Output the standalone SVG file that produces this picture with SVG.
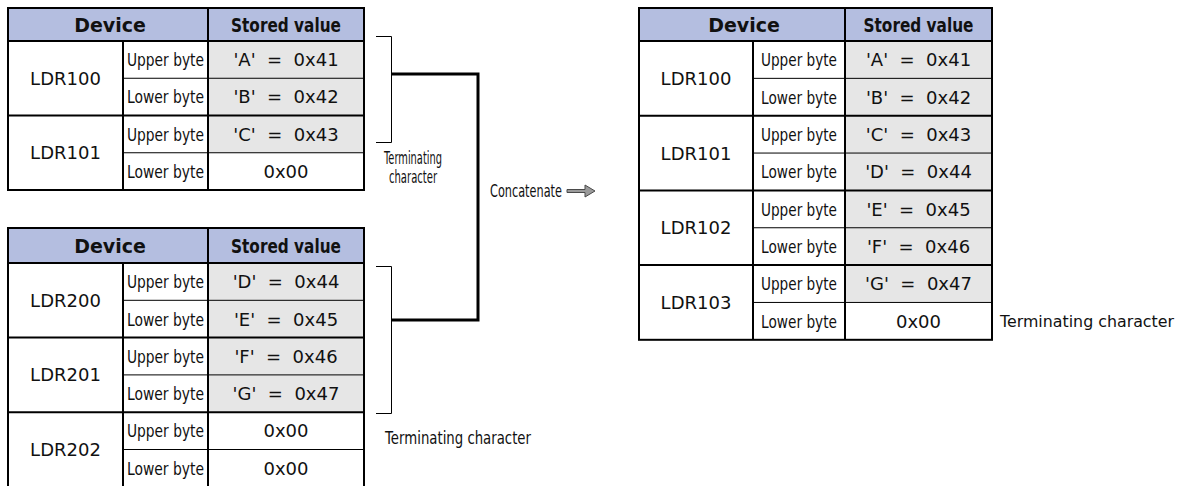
<svg xmlns="http://www.w3.org/2000/svg" width="1184" height="486" viewBox="0 0 1184 486">
<style>
.hdr{fill:#b4bee0}
.val{fill:#e6e6e6}
.bk{stroke:#000;stroke-width:2;fill:none}
.tn{stroke:#000;stroke-width:1;fill:none}
text{font-family:"DejaVu Sans",Verdana,sans-serif;fill:#111;dominant-baseline:central}
.m{text-anchor:middle}
.h{font-weight:bold;font-size:19px}
.hs{font-weight:bold;font-size:20px}
.d{font-size:18px}
.s{font-size:18px}
.lab{font-size:17px}
</style>
<rect width="1184" height="486" fill="#fff"/>

<g id="table1">
<rect class="hdr" x="8" y="8" width="356" height="33"/>
<rect class="val" x="208" y="41" width="156" height="111.75"/>
<rect class="bk" x="8" y="8" width="356" height="182"/>
<line class="bk" x1="8" y1="41" x2="364" y2="41"/>
<line class="bk" x1="8" y1="115.5" x2="364" y2="115.5"/>
<line class="tn" x1="123" y1="78.25" x2="364" y2="78.25"/>
<line class="tn" x1="123" y1="152.75" x2="364" y2="152.75"/>
<line class="bk" x1="123" y1="41" x2="123" y2="190"/>
<line class="bk" x1="208" y1="8" x2="208" y2="190"/>
<text class="m h" x="110" y="24.5">Device</text>
<text class="m hs" x="286" y="24.5" textLength="110" lengthAdjust="spacingAndGlyphs">Stored value</text>
<text class="m d" x="65.5" y="78.25">LDR100</text>
<text class="m d" x="65.5" y="152.75">LDR101</text>
<text class="m s" x="165.5" y="59.6" textLength="77" lengthAdjust="spacingAndGlyphs">Upper byte</text>
<text class="m s" x="165.5" y="96.9" textLength="77" lengthAdjust="spacingAndGlyphs">Lower byte</text>
<text class="m s" x="165.5" y="134.1" textLength="77" lengthAdjust="spacingAndGlyphs">Upper byte</text>
<text class="m s" x="165.5" y="171.4" textLength="77" lengthAdjust="spacingAndGlyphs">Lower byte</text>
<text class="m d" x="286" y="59.6" xml:space="preserve">'A'  =  0x41</text>
<text class="m d" x="286" y="96.9" xml:space="preserve">'B'  =  0x42</text>
<text class="m d" x="286" y="134.1" xml:space="preserve">'C'  =  0x43</text>
<text class="m d" x="286" y="171.4">0x00</text>
</g>

<g id="table2">
<rect class="hdr" x="8" y="228" width="356" height="35"/>
<rect class="val" x="208" y="263" width="156" height="149.2"/>
<rect class="bk" x="8" y="228" width="356" height="262"/>
<line class="bk" x1="8" y1="263" x2="364" y2="263"/>
<line class="bk" x1="8" y1="337.6" x2="364" y2="337.6"/>
<line class="bk" x1="8" y1="412.2" x2="364" y2="412.2"/>
<line class="tn" x1="123" y1="300.3" x2="364" y2="300.3"/>
<line class="tn" x1="123" y1="374.9" x2="364" y2="374.9"/>
<line class="tn" x1="123" y1="449.5" x2="364" y2="449.5"/>
<line class="bk" x1="123" y1="263" x2="123" y2="490"/>
<line class="bk" x1="208" y1="228" x2="208" y2="490"/>
<text class="m h" x="110" y="245.5">Device</text>
<text class="m hs" x="286" y="245.5" textLength="110" lengthAdjust="spacingAndGlyphs">Stored value</text>
<text class="m d" x="65.5" y="300.3">LDR200</text>
<text class="m d" x="65.5" y="374.9">LDR201</text>
<text class="m d" x="65.5" y="449.5">LDR202</text>
<text class="m s" x="165.5" y="281.6" textLength="77" lengthAdjust="spacingAndGlyphs">Upper byte</text>
<text class="m s" x="165.5" y="319" textLength="77" lengthAdjust="spacingAndGlyphs">Lower byte</text>
<text class="m s" x="165.5" y="356.3" textLength="77" lengthAdjust="spacingAndGlyphs">Upper byte</text>
<text class="m s" x="165.5" y="393.6" textLength="77" lengthAdjust="spacingAndGlyphs">Lower byte</text>
<text class="m s" x="165.5" y="430.9" textLength="77" lengthAdjust="spacingAndGlyphs">Upper byte</text>
<text class="m s" x="165.5" y="468.2" textLength="77" lengthAdjust="spacingAndGlyphs">Lower byte</text>
<text class="m d" x="286" y="281.6" xml:space="preserve">'D'  =  0x44</text>
<text class="m d" x="286" y="319" xml:space="preserve">'E'  =  0x45</text>
<text class="m d" x="286" y="356.3" xml:space="preserve">'F'  =  0x46</text>
<text class="m d" x="286" y="393.6" xml:space="preserve">'G'  =  0x47</text>
<text class="m d" x="286" y="430.9">0x00</text>
<text class="m d" x="286" y="468.2">0x00</text>
</g>

<g id="table3">
<rect class="hdr" x="639" y="8" width="353" height="33"/>
<rect class="val" x="845" y="41" width="147" height="261.45"/>
<rect class="bk" x="639" y="8" width="353" height="331.8"/>
<line class="bk" x1="639" y1="41" x2="992" y2="41"/>
<line class="bk" x1="639" y1="115.7" x2="992" y2="115.7"/>
<line class="bk" x1="639" y1="190.4" x2="992" y2="190.4"/>
<line class="bk" x1="639" y1="265.1" x2="992" y2="265.1"/>
<line class="tn" x1="753" y1="78.35" x2="992" y2="78.35"/>
<line class="tn" x1="753" y1="153.05" x2="992" y2="153.05"/>
<line class="tn" x1="753" y1="227.75" x2="992" y2="227.75"/>
<line class="tn" x1="753" y1="302.45" x2="992" y2="302.45"/>
<line class="bk" x1="753" y1="41" x2="753" y2="339.8"/>
<line class="bk" x1="845" y1="8" x2="845" y2="339.8"/>
<text class="m h" x="744" y="24.5">Device</text>
<text class="m hs" x="918.5" y="24.5" textLength="110" lengthAdjust="spacingAndGlyphs">Stored value</text>
<text class="m d" x="696" y="78.35">LDR100</text>
<text class="m d" x="696" y="153.05">LDR101</text>
<text class="m d" x="696" y="227.75">LDR102</text>
<text class="m d" x="696" y="302.45">LDR103</text>
<text class="m s" x="799" y="59.7" textLength="76" lengthAdjust="spacingAndGlyphs">Upper byte</text>
<text class="m s" x="799" y="97" textLength="76" lengthAdjust="spacingAndGlyphs">Lower byte</text>
<text class="m s" x="799" y="134.4" textLength="76" lengthAdjust="spacingAndGlyphs">Upper byte</text>
<text class="m s" x="799" y="171.7" textLength="76" lengthAdjust="spacingAndGlyphs">Lower byte</text>
<text class="m s" x="799" y="209.1" textLength="76" lengthAdjust="spacingAndGlyphs">Upper byte</text>
<text class="m s" x="799" y="246.4" textLength="76" lengthAdjust="spacingAndGlyphs">Lower byte</text>
<text class="m s" x="799" y="283.8" textLength="76" lengthAdjust="spacingAndGlyphs">Upper byte</text>
<text class="m s" x="799" y="321.1" textLength="76" lengthAdjust="spacingAndGlyphs">Lower byte</text>
<text class="m d" x="918.5" y="59.7" xml:space="preserve">'A'  =  0x41</text>
<text class="m d" x="918.5" y="97" xml:space="preserve">'B'  =  0x42</text>
<text class="m d" x="918.5" y="134.4" xml:space="preserve">'C'  =  0x43</text>
<text class="m d" x="918.5" y="171.7" xml:space="preserve">'D'  =  0x44</text>
<text class="m d" x="918.5" y="209.1" xml:space="preserve">'E'  =  0x45</text>
<text class="m d" x="918.5" y="246.4" xml:space="preserve">'F'  =  0x46</text>
<text class="m d" x="918.5" y="283.8" xml:space="preserve">'G'  =  0x47</text>
<text class="m d" x="918.5" y="321.1">0x00</text>
</g>

<g id="connectors">
<polyline class="tn" points="376,36.5 391.5,36.5 391.5,142.5 376,142.5"/>
<polyline class="tn" points="376,266.5 391.5,266.5 391.5,413.5 376,413.5"/>
<polyline points="391,74 478,74 478,320 391,320" fill="none" stroke="#000" stroke-width="3"/>
<polygon points="567,189.5 585,189.5 585,185 595,191 585,197 585,192.5 567,192.5" fill="#9a9a9a" stroke="#4a4a4a" stroke-width="1"/>
</g>

<g id="labels">
<text class="m lab" x="413" y="158" textLength="58" lengthAdjust="spacingAndGlyphs">Terminating</text>
<text class="m lab" x="413" y="177" textLength="48" lengthAdjust="spacingAndGlyphs">character</text>
<text class="lab" x="490" y="191" textLength="72" lengthAdjust="spacingAndGlyphs">Concatenate</text>
<text class="lab" x="385" y="438" textLength="146" lengthAdjust="spacingAndGlyphs">Terminating character</text>
<text style="font-size:16px" x="1000" y="321" textLength="174" lengthAdjust="spacingAndGlyphs">Terminating character</text>
</g>
</svg>
